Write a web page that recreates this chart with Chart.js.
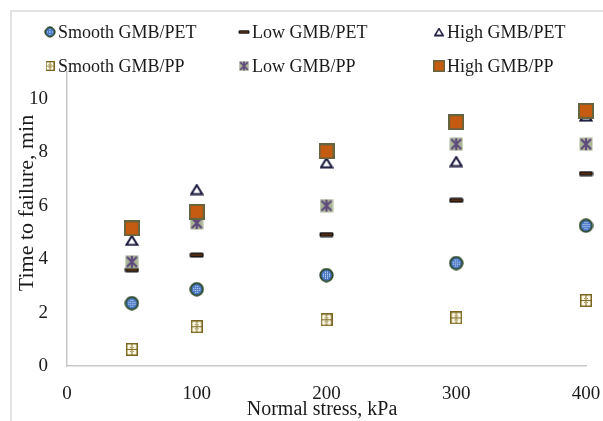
<!DOCTYPE html>
<html>
<head>
<meta charset="utf-8">
<script src="https://cdn.jsdelivr.net/npm/chart.js@4.4.0/dist/chart.umd.min.js"></script>
<style>
  html, body { margin: 0; padding: 0; background: #fff; }
  #wrap { width: 603px; height: 421px; position: relative; }
</style>
</head>
<body>
<div id="wrap"><canvas id="chart"></canvas></div>
<script>
// Normal stress (kPa) and time to failure (min)
const stress = [50, 100, 200, 300, 400];
const smoothPET = [2.35, 2.87, 3.4, 3.85, 5.25];
const lowPET = [3.6, 4.15, 4.92, 6.2, 7.2];
const highPET = [4.7, 6.6, 7.6, 7.65, 9.35];
const smoothPP = [0.62, 1.47, 1.73, 1.8, 2.45];
const lowPP = [3.9, 5.35, 6.0, 8.3, 8.3];
const highPP = [5.15, 5.77, 8.03, 9.12, 9.55];

const seriesNames = ['Smooth GMB/PET', 'Low GMB/PET', 'High GMB/PET', 'Smooth GMB/PP', 'Low GMB/PP', 'High GMB/PP'];
const xTicks = [0, 100, 200, 300, 400];
const yTicks = [0, 2, 4, 6, 8, 10];
const xTitle = 'Normal stress, kPa';
const yTitle = 'Time to failure, min';

const FONT = 'Liberation Serif';
Chart.defaults.font.family = FONT;

function makeCanvas(w, h, draw) {
    const c = document.createElement('canvas');
    c.width = w;
    c.height = h;
    draw(c.getContext('2d'), w, h);
    return c;
}

// marker images (Excel-like styles)
const markers = [
    makeCanvas(15, 15, g => {
        g.beginPath();
        g.arc(7.5, 7.5, 6.2, 0, Math.PI * 2);
        g.fillStyle = '#4a78c8';
        g.fill();
        g.lineWidth = 2;
        g.strokeStyle = '#2e4a2a';
        g.stroke();
        g.fillStyle = '#e4ecf8';
        for (let yy = 4; yy <= 10; yy += 2) {
            for (let xx = 4; xx <= 10; xx += 2) {
                if ((xx - 7) * (xx - 7) + (yy - 7) * (yy - 7) < 14) g.fillRect(xx, yy, 1, 1);
            }
        }
    }),
    makeCanvas(15, 6, g => {
        g.fillStyle = '#141414';
        g.beginPath();
        g.roundRect(0.5, 0.5, 14, 5, 1.5);
        g.fill();
        g.fillStyle = '#9a4414';
        g.fillRect(2, 2.5, 11, 1);
    }),
    makeCanvas(14, 12, g => {
        g.beginPath();
        g.moveTo(7, 1.5);
        g.lineTo(12.5, 10.5);
        g.lineTo(1.5, 10.5);
        g.closePath();
        g.fillStyle = '#fff';
        g.fill();
        g.lineWidth = 2;
        g.strokeStyle = '#16163a';
        g.stroke();
    }),
    makeCanvas(12, 13, g => {
        g.fillStyle = '#7a6620';
        g.fillRect(0, 0, 12, 13);
        g.fillStyle = '#fffbe8';
        g.fillRect(1.5, 1.5, 4, 4.5);
        g.fillRect(6.5, 1.5, 4, 4.5);
        g.fillRect(1.5, 7, 4, 4.5);
        g.fillRect(6.5, 7, 4, 4.5);
        g.fillStyle = '#a58c3a';
        g.fillRect(4, 4, 1, 1);
        g.fillRect(7, 4, 1, 1);
        g.fillRect(4, 8, 1, 1);
        g.fillRect(7, 8, 1, 1);
    }),
    makeCanvas(14, 14, g => {
        g.fillStyle = '#aab596';
        g.fillRect(0.5, 0.5, 13, 13);
        g.strokeStyle = '#5e4a7c';
        g.lineWidth = 2.2;
        g.beginPath();
        g.moveTo(2, 2); g.lineTo(12, 12);
        g.moveTo(12, 2); g.lineTo(2, 12);
        g.moveTo(7, 1); g.lineTo(7, 13);
        g.stroke();
    }),
    makeCanvas(16, 16, g => {
        g.fillStyle = '#c55a11';
        g.fillRect(1, 1, 14, 14);
        g.lineWidth = 2;
        g.strokeStyle = '#66643f';
        g.strokeRect(1, 1, 14, 14);
    })
];

const seriesValues = [smoothPET, lowPET, highPET, smoothPP, lowPP, highPP];

// legend slots: two rows of three
const legendCols = [50, 244, 439];
const legendRows = [32, 66];

const decorPlugin = {
    id: 'decor',
    beforeDraw(chart) {
        const ctx = chart.ctx;
        ctx.save();
        ctx.strokeStyle = '#d9d9d9';
        ctx.lineWidth = 1.5;
        ctx.beginPath();
        ctx.moveTo(11, 421);
        ctx.lineTo(11, 11);
        ctx.lineTo(603, 11);
        ctx.stroke();
        ctx.restore();
    },
    afterDraw(chart) {
        const ctx = chart.ctx;
        ctx.save();
        // legend
        ctx.font = '18px ' + FONT;
        ctx.fillStyle = '#1a1a1a';
        ctx.textBaseline = 'middle';
        ctx.textAlign = 'left';
        seriesNames.forEach((name, i) => {
            const cx = legendCols[i % 3];
            const cy = legendRows[Math.floor(i / 3)];
            const m = markers[i];
            const s = 0.75;
            ctx.drawImage(m, cx - m.width * s / 2, cy - m.height * s / 2, m.width * s, m.height * s);
            ctx.fillText(name, cx + 8, cy + 1);
        });
        // axis titles
        ctx.textAlign = 'center';
        ctx.font = '20px ' + FONT;
        ctx.fillText(xTitle, 322, 410);
        ctx.translate(28, 203);
        ctx.rotate(-Math.PI / 2);
        ctx.scale(1.1, 1);
        ctx.fillText(yTitle, 0, 0);
        ctx.restore();
    }
};

new Chart(document.getElementById('chart'), {
    type: 'scatter',
    data: {
        datasets: seriesNames.map((name, i) => ({
            label: name,
            data: stress.map((x, j) => ({ x: x, y: seriesValues[i][j] })),
            pointStyle: markers[i],
            pointRadius: 8,
            showLine: false,
            clip: false,
            order: seriesNames.length - i
        }))
    },
    options: {
        responsive: true,
        maintainAspectRatio: false,
        devicePixelRatio: 1,
        animation: false,
        events: [],
        layout: { padding: { top: 72, right: 17, left: 0, bottom: 0 } },
        plugins: { legend: { display: false }, tooltip: { enabled: false } },
        scales: {
            x: {
                type: 'linear',
                min: 0,
                max: 400,
                afterBuildTicks: s => { s.ticks = xTicks.map(v => ({ value: v })); },
                afterFit: s => { s.height = 55; s.paddingLeft = 0; s.paddingRight = 0; },
                grid: { display: false, drawTicks: false },
                border: { display: true, color: '#c8c8c8', width: 1.5 },
                ticks: { padding: 17, color: '#1a1a1a', font: { size: 19 } }
            },
            y: {
                type: 'linear',
                min: 0,
                max: 11,
                afterBuildTicks: s => { s.ticks = yTicks.map(v => ({ value: v })); },
                afterFit: s => { s.width = 67; s.paddingTop = 0; s.paddingBottom = 0; },
                grid: { display: false, drawTicks: false },
                border: { display: true, color: '#c8c8c8', width: 1.5 },
                ticks: { padding: 19, color: '#1a1a1a', font: { size: 19 } }
            }
        }
    },
    plugins: [decorPlugin]
});
</script>
</body>
</html>
